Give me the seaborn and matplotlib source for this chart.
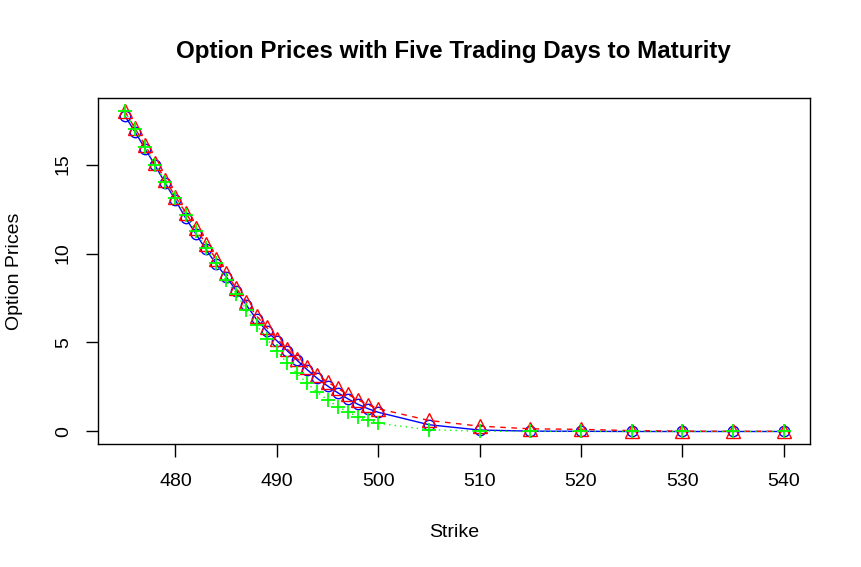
import matplotlib
matplotlib.use("Agg")
import matplotlib.pyplot as plt
import seaborn as sns
import pandas as pd

strikes = list(range(475, 501)) + [505, 510, 515, 520, 525, 530, 535, 540]

blue_vals = [17.75, 16.85, 15.9, 14.95, 13.95, 13.0, 12.0, 11.12, 10.24, 9.42,
             8.7, 7.92, 7.1, 6.3, 5.66, 5.1, 4.55, 4.0, 3.47, 2.98,
             2.56, 2.18, 1.84, 1.53, 1.28, 1.08,
             0.38, 0.08, 0.02, 0.01, 0.0, 0.0, 0.0, 0.0]
red_vals = [18.0, 17.05, 16.1, 15.1, 14.15, 13.2, 12.3, 11.42, 10.55, 9.7,
            8.88, 8.05, 7.28, 6.5, 5.85, 5.22, 4.65, 4.1, 3.62, 3.18,
            2.78, 2.42, 2.08, 1.78, 1.5, 1.28,
            0.62, 0.3, 0.15, 0.12, 0.05, 0.02, 0.01, 0.01]
green_vals = [18.0, 17.0, 16.0, 15.0, 14.0, 13.1, 12.15, 11.28, 10.3, 9.45,
              8.5, 7.75, 6.85, 6.0, 5.2, 4.55, 3.85, 3.26, 2.7, 2.2,
              1.78, 1.4, 1.1, 0.82, 0.66, 0.46,
              0.1, 0.02, 0.0, 0.0, 0.0, 0.0, 0.0, 0.0]

x_ticks = [480, 490, 500, 510, 520, 530, 540]
y_ticks = [0, 5, 10, 15]

title = "Option Prices with Five Trading Days to Maturity"
xlabel = "Strike"
ylabel = "Option Prices"

sns.set_style("ticks")
plt.rcParams['font.family'] = ['Liberation Sans', 'DejaVu Sans']
plt.rcParams['text.color'] = 'black'
plt.rcParams['axes.labelcolor'] = 'black'
plt.rcParams['xtick.color'] = 'black'
plt.rcParams['ytick.color'] = 'black'

fig = plt.figure(figsize=(8.61, 5.67), dpi=100)
ax = fig.add_axes([0.1142, 0.2164, 0.941 - 0.1142, 0.8266 - 0.2164])

df = pd.DataFrame({"strike": strikes, "blue": blue_vals, "red": red_vals, "green": green_vals})

sns.lineplot(data=df, x="strike", y="blue", ax=ax, color="#0000ff", linewidth=1.0,
             linestyle="-", marker="o", markersize=7.5, markerfacecolor="none",
             markeredgecolor="#0000ff", markeredgewidth=1.0, sort=False)
sns.lineplot(data=df, x="strike", y="red", ax=ax, color="#ff0000", linewidth=1.0,
             linestyle=(0, (4, 4)), marker="^", markersize=9.5, markerfacecolor="none",
             markeredgecolor="#ff0000", markeredgewidth=1.0, sort=False)
sns.lineplot(data=df, x="strike", y="green", ax=ax, color="#00ff00", linewidth=1.0,
             linestyle=(0, (1, 3)), marker="+", markersize=10,
             markeredgecolor="#00ff00", markeredgewidth=1.3, sort=False)

ax.set_xlim(472.4, 542.6)
ax.set_ylim(-0.72, 18.72)
ax.set_xticks(x_ticks)
ax.set_yticks(y_ticks)
ax.set_xticklabels([str(v) for v in x_ticks], fontsize=14)
ax.set_yticklabels([str(v) for v in y_ticks], fontsize=14, rotation=90, va="center")
ax.tick_params(axis="both", direction="out", length=9, width=1.0, color="black",
               labelcolor="black")
ax.tick_params(axis="x", pad=12)
ax.tick_params(axis="y", pad=10)
for s in ax.spines.values():
    s.set_color("black")
    s.set_linewidth(1.0)
    s.set_visible(True)

ax.set_xlabel(xlabel, fontsize=14, labelpad=24, color="black")
ax.set_ylabel(ylabel, fontsize=14, labelpad=23, color="black")
fig.suptitle(title, fontsize=17.4, fontweight="bold", x=0.526, y=0.93, color="black")

fig.savefig("out.png", dpi=100, facecolor="white")
